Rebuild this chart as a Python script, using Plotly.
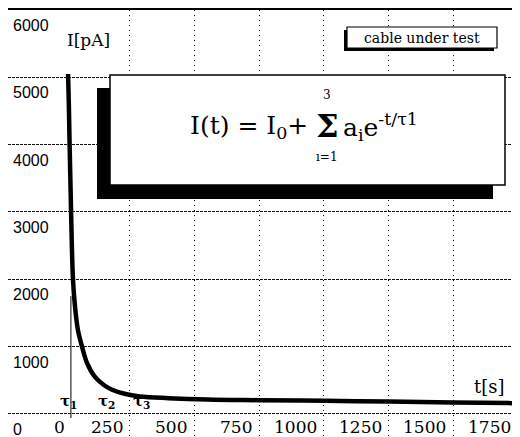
import plotly.graph_objects as go

# ---- data ----
t_s = [12, 15, 18, 22, 26, 31, 39, 50, 66, 85, 116, 150, 182, 230, 290, 400, 550, 750, 1000, 1250, 1500, 1750]
i_pa = [5050, 4600, 4000, 3300, 2600, 2000, 1590, 1250, 1000, 760, 550, 430, 360, 300, 260, 235, 215, 205, 195, 185, 170, 160]
x_ticks = [0, 250, 500, 750, 1000, 1250, 1500, 1750]
y_ticks = [0, 1000, 2000, 3000, 4000, 5000, 6000]
tau_labels = ["τ<sub>1</sub>", "τ<sub>2</sub>", "τ<sub>3</sub>"]
tau_t = [15, 160, 295]
tau_marker_t = 23
tau_marker_top = 1750

# page has an 8px body margin; size the figure so the plot lands where the reference has it
OFF = 8
W, H = 512, 429
PL, PR, PT, PB = 8, 518, 10, 437          # plot-area edges in page pixels
ML, MT = PL - OFF, PT - OFF
MR, MB = (OFF + W) - PR, (OFF + H) - PB
XR = [-220, 1750]
YR = [-342, 6000]

def px2x(px):
    return XR[0] + (px - PL) / (PR - PL) * (XR[1] - XR[0])

def py2y(py):
    return YR[1] - (py - PT) / (PB - PT) * (YR[1] - YR[0])

fig = go.Figure()
fig.add_trace(go.Scatter(x=t_s, y=i_pa, mode="lines", line=dict(color="black", width=4.5, shape="spline"),
                         hoverinfo="skip", showlegend=False))

shapes = []
shapes.append(dict(type="line", xref="x", yref="y", x0=tau_marker_t, x1=tau_marker_t, y0=-60, y1=tau_marker_top,
                   line=dict(color="black", width=1), layer="above"))
shapes.append(dict(type="rect", xref="x", yref="y", x0=px2x(97), x1=px2x(493), y0=py2y(199), y1=py2y(88),
                   fillcolor="black", line=dict(width=0), layer="above"))
shapes.append(dict(type="rect", xref="x", yref="y", x0=px2x(110), x1=px2x(505), y0=py2y(185), y1=py2y(75),
                   fillcolor="white", line=dict(color="black", width=1.5), layer="above"))
shapes.append(dict(type="rect", xref="x", yref="y", x0=px2x(344), x1=px2x(494), y0=py2y(51), y1=py2y(30),
                   fillcolor="black", line=dict(width=0), layer="above"))
shapes.append(dict(type="rect", xref="x", yref="y", x0=px2x(347), x1=px2x(497), y0=py2y(48), y1=py2y(27),
                   fillcolor="white", line=dict(color="black", width=1.2), layer="above"))

ann = []
serif = "DejaVu Serif"
for v in y_ticks:
    ann.append(dict(x=XR[0], y=v, xref="x", yref="y", text=str(v), showarrow=False,
                    xanchor="left", yanchor="top", xshift=3, yshift=-5,
                    font=dict(family="Liberation Sans", size=16, color="black")))
for v in x_ticks:
    ann.append(dict(x=v, y=0, xref="x", yref="y", text=str(v), showarrow=False,
                    xanchor="right", yanchor="top", xshift=(2 if v == 0 else -5), yshift=-1,
                    font=dict(family=serif, size=17, color="black")))
for lab, tv in zip(tau_labels, tau_t):
    ann.append(dict(x=tv, y=0, xref="x", yref="y", text="<b>" + lab + "</b>", showarrow=False,
                    xanchor="center", yanchor="bottom", yshift=1,
                    font=dict(family=serif, size=15, color="black")))
ann.append(dict(x=px2x(88), y=py2y(40), xref="x", yref="y", text="I[pA]", showarrow=False,
                font=dict(family=serif, size=17, color="black")))
ann.append(dict(x=px2x(489), y=py2y(386), xref="x", yref="y", text="t[s]", showarrow=False,
                font=dict(family=serif, size=18, color="black")))
ann.append(dict(x=px2x(422), y=py2y(38), xref="x", yref="y", text="cable under test", showarrow=False,
                font=dict(family=serif, size=14, color="black")))
# formula
ann.append(dict(x=px2x(310), y=py2y(127), xref="x", yref="y", text="I(t) = I<sub>0</sub>+", showarrow=False,
                xanchor="right", font=dict(family=serif, size=25, color="black")))
ann.append(dict(x=px2x(327), y=py2y(126), xref="x", yref="y", text="<b>Σ</b>", showarrow=False,
                xanchor="center", font=dict(family=serif, size=32, color="black")))
ann.append(dict(x=px2x(327), y=py2y(95), xref="x", yref="y", text="3", showarrow=False,
                xanchor="center", font=dict(family=serif, size=12, color="black")))
ann.append(dict(x=px2x(327), y=py2y(157), xref="x", yref="y", text="ı=1", showarrow=False,
                xanchor="center", font=dict(family=serif, size=12, color="black")))
ann.append(dict(x=px2x(341), y=py2y(127), xref="x", yref="y", text="a<sub>i</sub>e<sup>-t/τ1</sup>", showarrow=False,
                xanchor="left", font=dict(family=serif, size=25, color="black")))

fig.update_layout(
    width=W, height=H,
    margin=dict(l=ML, r=MR, t=MT, b=MB, pad=0),
    paper_bgcolor="white", plot_bgcolor="white",
    shapes=shapes, annotations=ann, showlegend=False,
    xaxis=dict(range=XR, tickvals=x_ticks[1:-1], showticklabels=False, ticks="",
               showgrid=True, gridcolor="#111", gridwidth=1.2, griddash="1px,4px",
               zeroline=False, showline=True, mirror=True, linecolor="black", linewidth=1.5, fixedrange=True),
    yaxis=dict(range=YR, tickvals=y_ticks[:-1], showticklabels=False, ticks="",
               showgrid=True, gridcolor="#111", gridwidth=1, griddash="3px,1px",
               zeroline=False, showline=True, mirror=True, linecolor="black", linewidth=1.5, fixedrange=True),
)

fig.write_html("out.html")
